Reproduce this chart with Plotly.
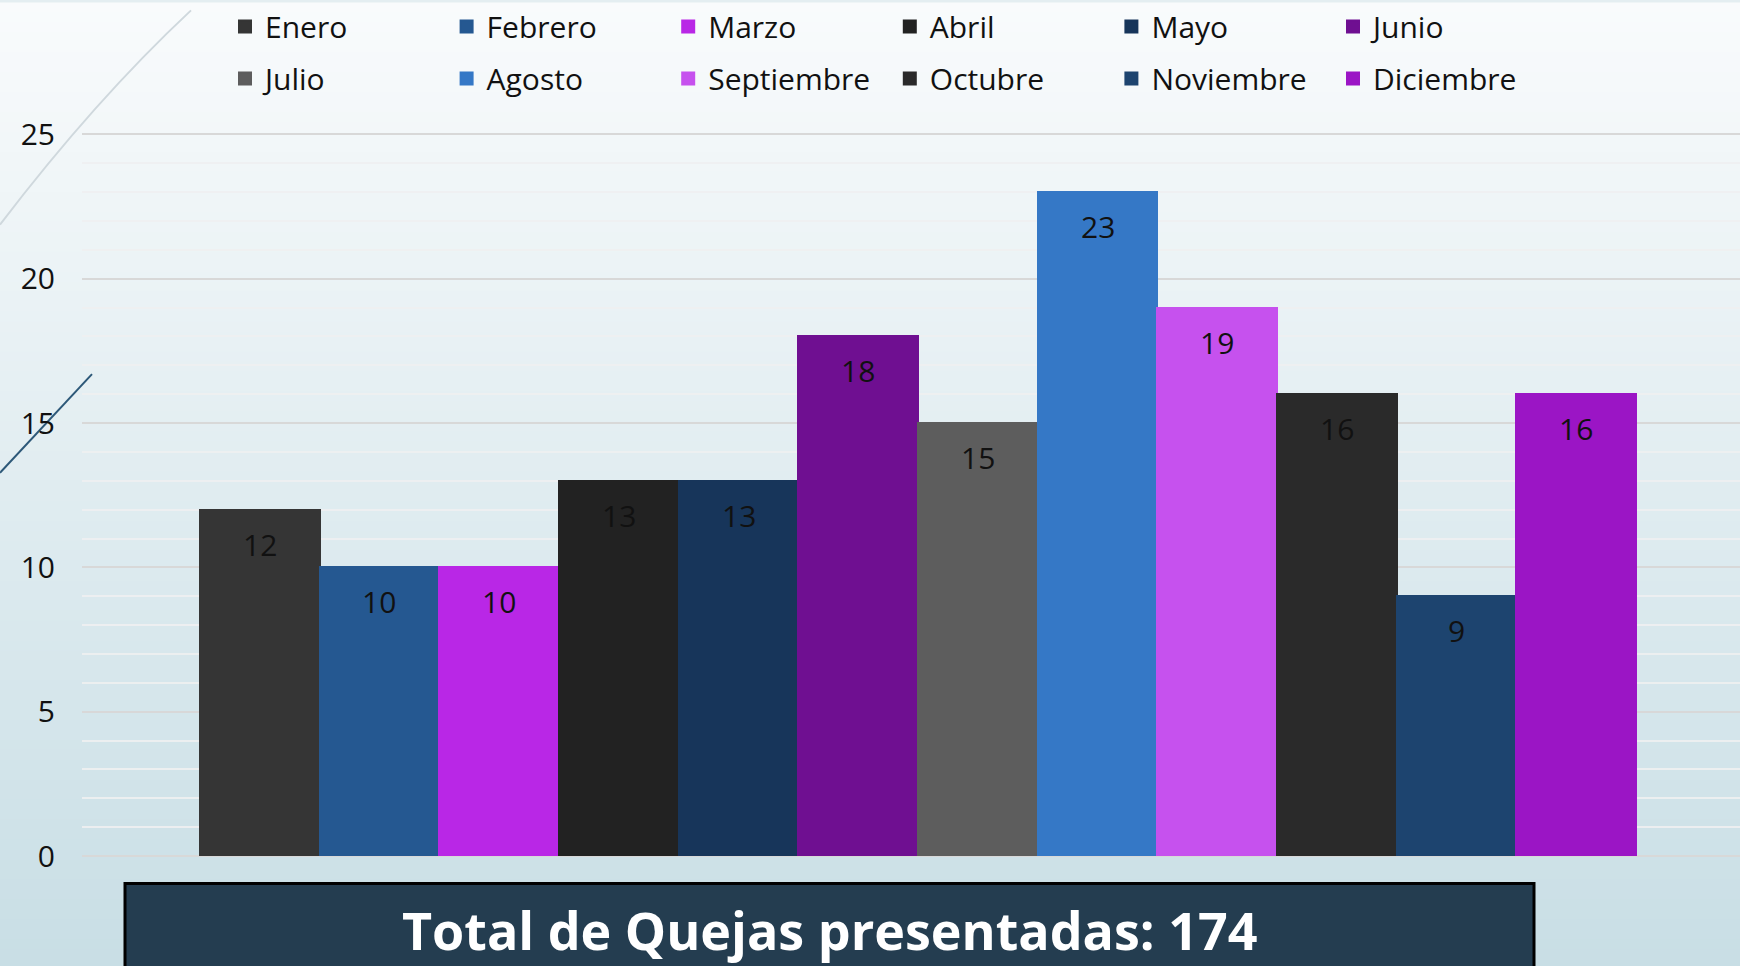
import plotly.graph_objects as go

months = ["Enero", "Febrero", "Marzo", "Abril", "Mayo", "Junio",
          "Julio", "Agosto", "Septiembre", "Octubre", "Noviembre", "Diciembre"]
values = [12, 10, 10, 13, 13, 18, 15, 23, 19, 16, 9, 16]
colors = ["#353535", "#255891", "#b927e6", "#222222", "#17355a", "#6f0f91",
          "#5d5d5d", "#3578c6", "#c651ee", "#2a2a2a", "#1d446f", "#9b15c5"]
y_ticks = [0, 5, 10, 15, 20, 25]
total_label = "Total de Quejas presentadas: 174"

W, H = 1740, 966
Y_TOP = 25.12
PX_PER_UNIT = 28.96
ML, MR, MB = 82, 0, 109.5
PH = Y_TOP * PX_PER_UNIT
MT = H - MB - PH
PW = W - ML - MR

def px(x):
    return (x - ML) / PW

def py(y):
    return (H - MB - y) / PH

FONT = "Open Sans"
N_COLS = 6
COL_LEFT = 225      # pixel position of first legend column
COL_STEP = 221.6

fig = go.Figure()
for i, (m, v, c) in enumerate(zip(months, values, colors)):
    leg = "legend" if i % N_COLS == 0 else "legend%d" % (i % N_COLS + 1)
    fig.add_trace(go.Bar(x=[i], y=[v], name=m, width=1, legend=leg, legendgroup=m,
                         marker=dict(color=c, line=dict(width=2, color=c)),
                         hoverinfo="name+y"))
    fig.add_annotation(x=i, y=v, text=str(v), showarrow=False, yanchor="top",
                       yshift=-12, font=dict(family=FONT, size=30, color="#111111"))

# background gradient
shapes = []
top = (0xf9, 0xfb, 0xfc)
bot = (0xc8, 0xde, 0xe5)
N = 97
for k in range(N):
    t = k / (N - 1)
    col = "rgb(%d,%d,%d)" % tuple(round(a + (b - a) * t) for a, b in zip(top, bot))
    y0 = k * 10
    shapes.append(dict(type="rect", xref="paper", yref="paper", layer="below",
                       x0=px(0), x1=px(W), y0=py(y0), y1=py(y0 + 11),
                       fillcolor=col, line=dict(width=0)))

# decorative lines
shapes.append(dict(type="path", xref="paper", yref="paper", layer="below",
                   path="M %f,%f Q %f,%f %f,%f" % (px(191), py(8), px(95), py(98), px(0), py(223)),
                   line=dict(color="#cfd8dd", width=2)))
shapes.append(dict(type="path", xref="paper", yref="paper", layer="below",
                   path="M %f,%f L %f,%f" % (px(92), py(373), px(0), py(472)),
                   line=dict(color="#2d5878", width=2)))

# bottom box
shapes.append(dict(type="rect", xref="paper", yref="paper", layer="above",
                   x0=px(125), x1=px(1534), y0=py(884), y1=py(1000),
                   fillcolor="#243d50", line=dict(color="#000000", width=3)))

fig.add_annotation(xref="paper", yref="paper", x=px(829.5), y=py(930),
                   text="<b>" + total_label + "</b>", showarrow=False,
                   xanchor="center", yanchor="middle",
                   font=dict(family=FONT, size=52, color="#ffffff"))

legends = {}
for j in range(N_COLS):
    key = "legend" if j == 0 else "legend%d" % (j + 1)
    legends[key] = dict(orientation="v", x=px(COL_LEFT + COL_STEP * j), y=py(-2),
                        xanchor="left", yanchor="top", traceorder="grouped",
                        tracegroupgap=10,
                        font=dict(family=FONT, size=30, color="#111111"),
                        bgcolor="rgba(0,0,0,0)")

fig.update_layout(
    width=W, height=H,
    margin=dict(l=ML, r=MR, t=MT, b=MB, pad=0),
    paper_bgcolor="#e4eef1", plot_bgcolor="rgba(0,0,0,0)",
    barmode="overlay", bargap=0,
    shapes=shapes,
    showlegend=True,
    xaxis=dict(range=[-1.486, 12.369], visible=False, showgrid=False, zeroline=False),
    yaxis=dict(range=[0, Y_TOP], tickvals=y_ticks, showgrid=True, gridcolor="#d8d8d8",
               gridwidth=1.5, zeroline=True, zerolinecolor="#d8d8d8", zerolinewidth=1.5,
               showline=False, ticks="", ticklabelstandoff=26,
               tickfont=dict(family=FONT, size=30, color="#111111"),
               minor=dict(dtick=1, showgrid=True, gridcolor="rgba(238,240,241,0.9)", gridwidth=1.5)),
    **legends,
)

fig.write_html("out.html", config={"displayModeBar": False})
with open("out.html", "r", encoding="utf-8") as f:
    html = f.read()
html = html.replace("<head>", "<head><style>html,body{margin:0;padding:0;overflow:hidden;}</style>", 1)
with open("out.html", "w", encoding="utf-8") as f:
    f.write(html)
